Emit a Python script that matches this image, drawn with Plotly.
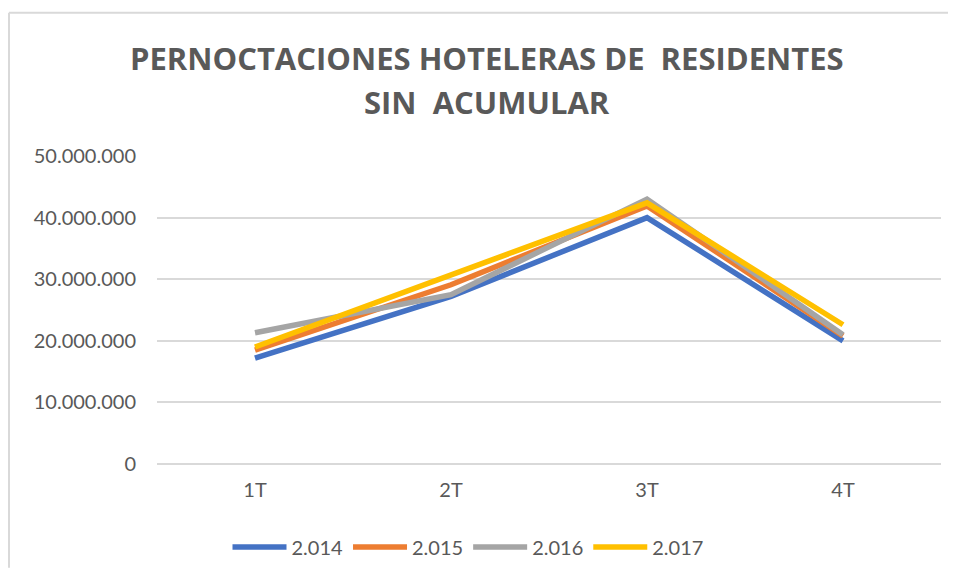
import plotly.graph_objects as go

quarters = ["1T", "2T", "3T", "4T"]
series_names = ["2.014", "2.015", "2.016", "2.017"]
v2014 = [17200000, 27200000, 40000000, 20000000]
v2015 = [18500000, 29100000, 41900000, 20800000]
v2016 = [21300000, 27500000, 43000000, 21000000]
v2017 = [19000000, 30800000, 42400000, 22600000]
colors = ["#4472C4", "#ED7D31", "#A5A5A5", "#FFC000"]
y_ticks = [0, 10000000, 20000000, 30000000, 40000000, 50000000]
title_lines = ["PERNOCTACIONES HOTELERAS DE  RESIDENTES", "SIN  ACUMULAR"]

W, H = 940, 565
L, R, T, B = 149, 7, 148, 105
pw, ph = W - L - R, H - T - B

fig = go.Figure()
for name, vals, col in zip(series_names, [v2014, v2015, v2016, v2017], colors):
    fig.add_trace(go.Scatter(x=quarters, y=vals, name=name, mode="lines",
                             line=dict(color=col, width=5.5)))

def px_x(p):
    return (p - L) / pw

def px_y(p):
    return 1 - (p - T) / ph

annotations = [
    dict(text=title_lines[0], xref="paper", yref="paper", x=px_x(479), y=px_y(49),
         xanchor="center", yanchor="middle", showarrow=False,
         font=dict(family="Open Sans", size=31, color="#595959", weight="bold")),
    dict(text=title_lines[1], xref="paper", yref="paper", x=px_x(479), y=px_y(93),
         xanchor="center", yanchor="middle", showarrow=False,
         font=dict(family="Open Sans", size=31, color="#595959", weight="bold")),
]

fig.update_layout(
    width=W, height=H,
    paper_bgcolor="white", plot_bgcolor="white",
    separators=",.",
    margin=dict(l=L, r=R, t=T, b=B),
    font=dict(family="Lato", color="#595959", size=20),
    showlegend=True,
    legend=dict(orientation="h", x=px_x(460), xanchor="center", y=px_y(544), yanchor="middle",
                font=dict(size=20, color="#595959"), itemwidth=54),
    xaxis=dict(type="category", range=[-0.5, 3.5], showgrid=False, showline=False,
               ticks="", ticklabelstandoff=12, tickfont=dict(size=20, color="#595959")),
    yaxis=dict(range=[0, 50000000], tickvals=y_ticks, tickformat=",d",
               showgrid=True, gridcolor="#D9D9D9", gridwidth=1.5,
               zeroline=True, zerolinecolor="#D9D9D9", zerolinewidth=1.5,
               showline=False, ticks="", ticklabelstandoff=20,
               tickfont=dict(size=20, color="#595959")),
    annotations=annotations,
    shapes=[
        dict(type="line", xref="paper", yref="paper", x0=px_x(1), x1=px_x(1), y0=px_y(3), y1=px_y(H),
             line=dict(color="#D9D9D9", width=2)),
        dict(type="line", xref="paper", yref="paper", x0=px_x(1), x1=px_x(W), y0=px_y(3), y1=px_y(3),
             line=dict(color="#D9D9D9", width=2)),
    ],
)

fig.write_html("out.html")
